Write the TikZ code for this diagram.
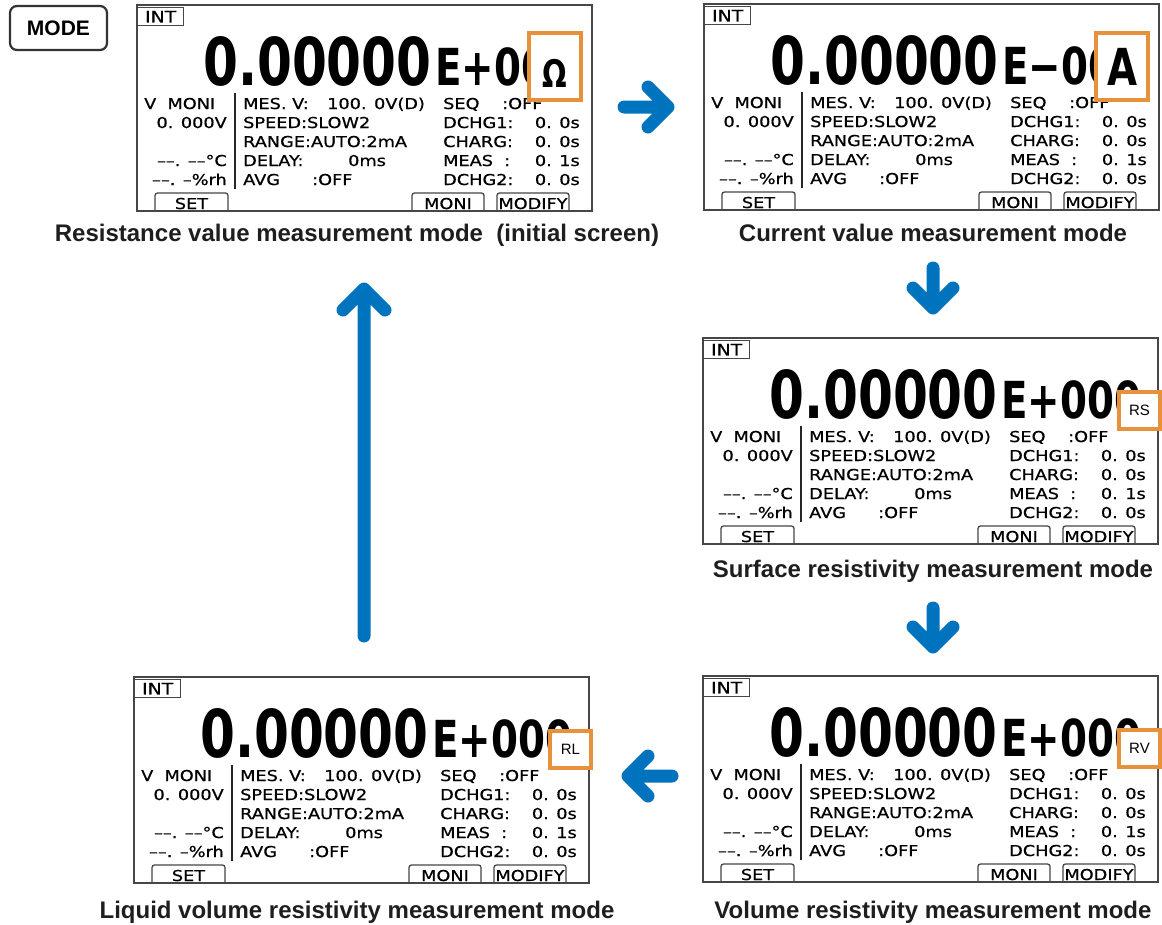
\documentclass[tikz,border=0pt]{standalone}
\usepackage{fontspec}
\setmainfont{Liberation Sans}
\newfontfamily\lcdfont[FakeStretch=1.18,FakeBold=0.7]{DejaVu Sans}
\newfontfamily\bignum[FakeStretch=0.76]{DejaVu Sans}
\usetikzlibrary{positioning,calc}

\definecolor{flowblue}{RGB}{0,115,190}
\definecolor{unitorange}{RGB}{231,146,58}
\definecolor{lcdgray}{RGB}{70,70,70}
\definecolor{inkblack}{RGB}{30,30,30}

% one instrument screen: name, x, y (top left), exponent sign, unit marker
\newcommand{\lcdscreen}[5]{%
  \begin{scope}[shift={(#2,#3)}]
    \node[inttab] (#1-int) at (0,2) {INT};
    \node[bigdig] (#1-val) at (66,80) {0.00000};
    \node[expdig] (#1-exp) at (298,80) {E#4000};
    \draw[lcdline] (98,88) -- (98,184);
    % left column
    \node[lcdl] (#1-vm) at (7,104) {V\ \ MONI};
    \node[lcdr] (#1-vv) at (90,123) {0. 000V};
    \node[lcdr] (#1-tc) at (90,161) {––. ––°C};
    \node[lcdr] (#1-rh) at (90,180) {––. –\%rh};
    % middle column
    \node[lcdl] (#1-mes) at (106,104) {MES. V:};
    \node[lcdl] (#1-mesv) at (190,104) {100. 0V(D)};
    \node[lcdl] (#1-spd) at (106,123) {SPEED:SLOW2};
    \node[lcdl] (#1-rng) at (106,142) {RANGE:AUTO:2mA};
    \node[lcdl] (#1-dly) at (106,161) {DELAY:};
    \node[lcdl] (#1-dlyv) at (211,161) {0ms};
    \node[lcdl] (#1-avg) at (106,180) {AVG};
    \node[lcdl] (#1-avgv) at (175,180) {:OFF};
    % right column
    \node[lcdl] (#1-seq) at (306,104) {SEQ};
    \node[lcdl] (#1-seqv) at (365,104) {:OFF};
    \node[lcdl] (#1-dc1) at (306,123) {DCHG1:};
    \node[lcdr] (#1-dc1v) at (443,123) {0. 0s};
    \node[lcdl] (#1-chg) at (306,142) {CHARG:};
    \node[lcdr] (#1-chgv) at (443,142) {0. 0s};
    \node[lcdl] (#1-mea) at (306,161) {MEAS};
    \node[lcdl] (#1-meac) at (367,161) {:};
    \node[lcdr] (#1-meav) at (443,161) {0. 1s};
    \node[lcdl] (#1-dc2) at (306,180) {DCHG2:};
    \node[lcdr] (#1-dc2v) at (443,180) {0. 0s};
    % soft keys
    \draw[softkey] (18,206) |- (91,188) -- (91,206);
    \draw[softkey] (275,206) |- (347,188) -- (347,206);
    \draw[softkey] (360,206) |- (432,188) -- (432,206);
    \node[keytxt] (#1-set) at (54.5,204) {SET};
    \node[keytxt] (#1-moni) at (311,204) {MONI};
    \node[keytxt] (#1-mod) at (396,204) {MODIFY};
    \node[lcdframe] (#1) at (227.5,103) {};
    #5
  \end{scope}}

\begin{document}
\begin{tikzpicture}[
    x=1pt, y=-1pt,
    lcdframe/.style={draw=lcdgray, line width=1.5pt, minimum width=455pt,
                     minimum height=206pt, inner sep=0pt},
    lcdtxt/.style={font={\lcdfont\fontsize{15}{15}\selectfont}, text=black, inner sep=0pt},
    lcdl/.style={lcdtxt, anchor=base west},
    lcdr/.style={lcdtxt, anchor=base east},
    keytxt/.style={lcdtxt, anchor=base},
    lcdline/.style={draw=black!85, line width=1.5pt},
    inttab/.style={lcdtxt, draw=lcdgray, line width=1.3pt, anchor=north west,
                   minimum width=46pt, minimum height=18pt,
                   font={\lcdfont\fontsize{16}{16}\selectfont}},
    softkey/.style={draw=lcdgray, line width=1.3pt, rounded corners=2.5pt},
    bigdig/.style={font={\bignum\bfseries\fontsize{66}{66}\selectfont},
                   anchor=base west, inner sep=0pt},
    expdig/.style={font={\bignum\bfseries\fontsize{51}{51}\selectfont},
                   anchor=base west, inner sep=0pt},
    unitbox/.style={draw=unitorange, line width=4pt, fill=white, inner sep=0pt},
    bigunit/.style={unitbox, minimum width=52pt, minimum height=67pt},
    smallunit/.style={unitbox, minimum width=41pt, minimum height=37pt,
                      font={\fontsize{15}{15}\selectfont}},
    unitsym/.style={anchor=base, inner sep=0pt},
    caption/.style={font={\bfseries\fontsize{24}{24}\selectfont}, text=inkblack,
                    anchor=base, inner sep=0pt},
    modekey/.style={draw=black!80, line width=2.2pt, rounded corners=7pt,
                    minimum width=97pt, minimum height=44pt,
                    font={\bfseries\fontsize{21}{21}\selectfont}},
    flow/.style={draw=flowblue, line width=13pt, line cap=round, line join=round}
  ]
  \useasboundingbox[fill=white] (0,0) rectangle (1162,924);

  \node[modekey] (mode) at (58.5,28) {MODE};

  \lcdscreen{res}{137}{5}{+}{%
    \node[bigunit] (res-unit) at (418,61.5) {};
    \node[unitsym, font={\bignum\bfseries\fontsize{38}{38}\selectfont}] (res-sym) at (418,82) {Ω};}
  \lcdscreen{cur}{704}{4}{−}{%
    \node[bigunit] (cur-unit) at (418,62) {};
    \node[unitsym, font={\bignum\bfseries\fontsize{51}{51}\selectfont}] (cur-sym) at (418,81) {A};}
  \lcdscreen{surf}{703}{338}{+}{%
    \node[smallunit] (surf-unit) at (436.5,72.5) {RS};}
  \lcdscreen{vol}{703}{676}{+}{%
    \node[smallunit] (vol-unit) at (436.5,72.5) {RV};}
  \lcdscreen{liq}{134}{677}{+}{%
    \node[smallunit] (liq-unit) at (436.5,72.5) {RL};}

  \node[caption] (res-cap) at (357,241) {Resistance value measurement mode\ \ (initial screen)};
  \node[caption] (cur-cap) at (933,241) {Current value measurement mode};
  \node[caption] (surf-cap) at (933,577) {Surface resistivity measurement mode};
  \node[caption] (vol-cap) at (933,918) {Volume resistivity measurement mode};
  \node[caption] (liq-cap) at (357,918) {Liquid volume resistivity measurement mode};

  % mode arrows
  \coordinate (a1-tail) at (624,107);  \coordinate (a1-tip) at (668,107);
  \coordinate (a1-l) at (648,87);      \coordinate (a1-r) at (648,127);
  \coordinate (a2-tail) at (933,268);  \coordinate (a2-tip) at (933,308);
  \coordinate (a2-l) at (913,288);     \coordinate (a2-r) at (953,288);
  \coordinate (a3-tail) at (933,608);  \coordinate (a3-tip) at (933,647);
  \coordinate (a3-l) at (913,627);     \coordinate (a3-r) at (953,627);
  \coordinate (a4-tail) at (672,776);  \coordinate (a4-tip) at (628,776);
  \coordinate (a4-l) at (648,756);     \coordinate (a4-r) at (648,796);
  \coordinate (a5-tail) at (364,636);  \coordinate (a5-tip) at (364,289);
  \coordinate (a5-l) at (343,310);     \coordinate (a5-r) at (385,310);

  \draw[flow] (a1-tail) -- (a1-tip) (a1-l) -- (a1-tip) -- (a1-r);
  \draw[flow] (a2-tail) -- (a2-tip) (a2-l) -- (a2-tip) -- (a2-r);
  \draw[flow] (a3-tail) -- (a3-tip) (a3-l) -- (a3-tip) -- (a3-r);
  \draw[flow] (a4-tail) -- (a4-tip) (a4-l) -- (a4-tip) -- (a4-r);
  \draw[flow] (a5-tail) -- (a5-tip) (a5-l) -- (a5-tip) -- (a5-r);
\end{tikzpicture}
\end{document}
